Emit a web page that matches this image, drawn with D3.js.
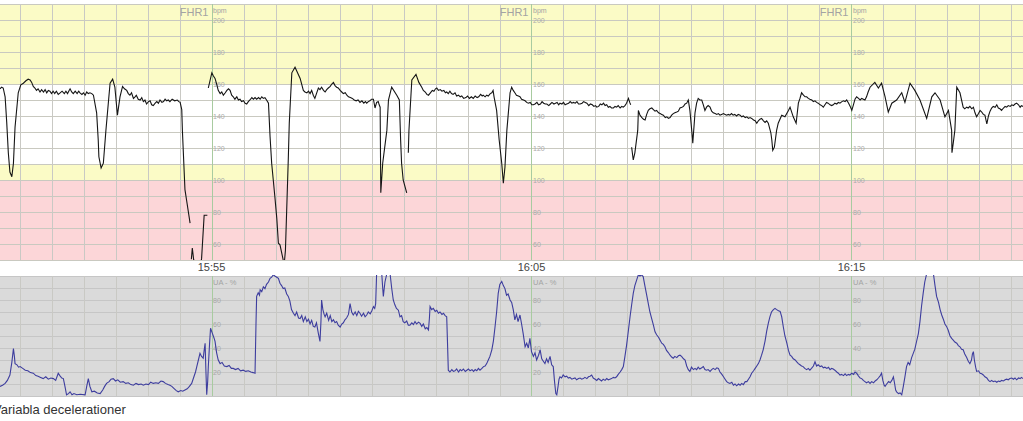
<!DOCTYPE html>
<html><head><meta charset="utf-8">
<script src="https://cdn.jsdelivr.net/npm/d3@7"></script>
<style>body{margin:0;background:#fff;overflow:hidden}svg{display:block;font-family:"Liberation Sans",Arial,sans-serif}</style>
</head><body><svg id="c" width="1023" height="421"></svg>
<script>
// ---- data (time in minutes relative to 15:55) ----
const viewStartMin = -6.61, viewEndMin = 25.36;
const timeLabels = ["15:55", "16:05", "16:15"];
const fhrTicks = [200, 180, 160, 140, 120, 100, 80, 60];
const uaTicks = [80, 60, 40, 20];
const fhrZoneBounds = [210, 160, 110, 100, 50];
const caption = "Variabla decelerationer";

// FHR1 (bpm), [minute, bpm]; null = signal gap
const fhrSeries = [[-6.61,157],[-6.56,158],[-6.51,157.5],[-6.45,152],[-6.40,136],[-6.35,117],[-6.30,105],[-6.24,102],[-6.19,110.5],[-6.14,133],[-6.04,154.5],[-5.96,159.5],[-5.88,160.5],[-5.80,162],[-5.73,163],[-5.67,162.5],[-5.62,161],[-5.57,158.5],[-5.52,157.5],[-5.47,156],[-5.42,157],[-5.36,155],[-5.31,156.5],[-5.25,155],[-5.20,156.5],[-5.15,154.5],[-5.10,156],[-5.05,155.5],[-5.00,154],[-4.95,155.5],[-4.90,154],[-4.85,155.5],[-4.79,153.5],[-4.73,154.5],[-4.67,155.5],[-4.60,154],[-4.55,155.5],[-4.50,154],[-4.45,156],[-4.42,157],[-4.37,155],[-4.32,154],[-4.26,155.5],[-4.20,154],[-4.15,155.5],[-4.11,154.5],[-4.05,153.5],[-4.00,154.5],[-3.95,153],[-3.90,155],[-3.85,154],[-3.80,154.5],[-3.74,154],[-3.69,153],[-3.59,142],[-3.54,125],[-3.52,114.5],[-3.45,107.5],[-3.38,110.5],[-3.30,131],[-3.17,160.5],[-3.09,163],[-3.02,158],[-2.94,140.5],[-2.86,152],[-2.78,158.5],[-2.72,157],[-2.65,156],[-2.60,154],[-2.55,153],[-2.50,154.5],[-2.44,151],[-2.39,152],[-2.35,153],[-2.29,150.5],[-2.23,150],[-2.18,151.5],[-2.13,149],[-2.08,150],[-2.03,147.5],[-1.97,149],[-1.92,149.5],[-1.87,147],[-1.82,146.5],[-1.76,148],[-1.71,149],[-1.66,148],[-1.61,150],[-1.55,148.5],[-1.50,149],[-1.45,150.5],[-1.40,149.5],[-1.35,150],[-1.30,149],[-1.23,150.5],[-1.15,149.5],[-1.07,150],[-1.02,149],[-0.98,148.5],[-0.93,144],[-0.91,131],[-0.83,94],[-0.78,87.5],[-0.67,73],[-0.65,null],[-0.63,50.5],[-0.60,57.5],[-0.56,50.5],[-0.48,44],[-0.36,44],[-0.31,51],[-0.23,78],[-0.13,78],[-0.11,null],[-0.10,157.5],[0.01,167],[0.06,165],[0.11,163.5],[0.16,160],[0.21,156],[0.27,154],[0.32,155],[0.37,153],[0.43,154.5],[0.48,156],[0.53,157],[0.58,156],[0.63,153],[0.68,152],[0.73,150.5],[0.79,152],[0.84,150],[0.89,150.5],[0.94,149],[1.00,149.5],[1.05,148],[1.10,147.5],[1.15,149],[1.20,150],[1.26,151.5],[1.31,150.5],[1.36,151.5],[1.41,150.5],[1.47,151.5],[1.52,150.5],[1.57,152],[1.62,151],[1.67,151.5],[1.72,150],[1.78,148],[1.83,127],[1.88,110.5],[1.98,89.5],[2.04,76],[2.09,60.5],[2.14,59.5],[2.23,51],[2.27,47],[2.31,56],[2.40,113.5],[2.43,135.5],[2.51,167],[2.61,170.5],[2.77,163.5],[2.87,156],[2.92,155],[2.98,154.5],[3.03,155.5],[3.08,154],[3.13,156],[3.18,153],[3.23,151],[3.28,154],[3.34,157.5],[3.39,156.5],[3.44,158],[3.50,156],[3.55,155],[3.60,156.5],[3.65,157.5],[3.71,158.5],[3.76,160],[3.81,161],[3.86,159],[3.91,158],[3.96,157.5],[4.02,156],[4.07,155],[4.12,154],[4.18,154.5],[4.23,153],[4.28,152],[4.34,151.5],[4.40,151],[4.46,150],[4.52,149.5],[4.58,150],[4.64,148.5],[4.70,149.5],[4.76,148],[4.81,149],[4.85,148],[4.90,149],[4.95,149.5],[5.00,150.5],[5.06,150.5],[5.11,145],[5.16,148.5],[5.21,149],[5.24,147],[5.27,145.5],[5.29,92],[5.35,110.5],[5.48,131],[5.53,150],[5.63,158],[5.79,153],[5.87,150],[5.91,125],[5.94,110.5],[5.99,100],[6.10,92],[6.12,null],[6.15,117],[6.17,131],[6.26,162.5],[6.39,166],[6.48,161],[6.57,158],[6.62,156],[6.68,155],[6.73,153.5],[6.78,153],[6.84,154.5],[6.90,156],[6.95,155.5],[7.00,157],[7.04,157.5],[7.09,156],[7.15,156.5],[7.20,155.5],[7.26,156],[7.31,154.5],[7.35,155],[7.40,154],[7.45,155.5],[7.50,154],[7.55,153.5],[7.61,154.5],[7.66,152.5],[7.72,153],[7.77,152],[7.82,152.5],[7.88,151],[7.95,151.5],[8.00,152.5],[8.06,151],[8.12,152],[8.18,151],[8.24,152.5],[8.30,151.5],[8.35,152],[8.41,153.5],[8.46,152.5],[8.49,153],[8.55,152],[8.60,153],[8.65,152.5],[8.71,154],[8.76,154.5],[8.80,156],[8.83,152],[8.91,143.5],[8.99,125],[9.07,110.5],[9.12,98],[9.17,108],[9.23,131],[9.33,154.5],[9.38,158],[9.43,156],[9.48,154.5],[9.53,153],[9.59,152.5],[9.64,152],[9.69,150.5],[9.75,150],[9.80,149.5],[9.85,148.5],[9.90,148],[9.96,148.5],[10.01,147],[10.06,147],[10.11,147.5],[10.17,148.5],[10.22,147],[10.28,147.5],[10.33,149],[10.38,148],[10.43,147.5],[10.48,147.5],[10.54,146.5],[10.59,147.5],[10.64,148.5],[10.70,147.5],[10.75,148],[10.80,148.5],[10.85,147],[10.89,148],[10.95,147.5],[11.00,148.5],[11.05,147],[11.10,147.5],[11.16,148],[11.21,149],[11.26,148],[11.31,148.5],[11.37,148],[11.42,149],[11.47,147.5],[11.52,147.5],[11.58,148],[11.63,149],[11.68,148.5],[11.73,148],[11.79,146.5],[11.84,147.5],[11.90,147],[11.95,146],[12.00,146.5],[12.04,145.5],[12.10,146],[12.15,147.5],[12.20,147],[12.25,148],[12.30,146.5],[12.35,147],[12.40,145.5],[12.45,146],[12.50,145],[12.56,145],[12.61,146],[12.66,145.5],[12.71,146.5],[12.77,145],[12.82,146],[12.87,145.5],[12.92,146.5],[12.97,148],[13.03,151],[13.07,148.5],[13.10,147],[13.11,null],[13.13,120.5],[13.18,112.5],[13.23,117],[13.32,131],[13.34,143.5],[13.39,140.5],[13.45,139],[13.50,138],[13.55,137.5],[13.60,141],[13.65,143.5],[13.70,144.5],[13.76,145],[13.81,144],[13.86,143],[13.91,143.5],[13.97,142],[14.02,141.5],[14.07,141],[14.12,140.5],[14.18,139],[14.23,139.5],[14.28,138.5],[14.33,139],[14.38,140.5],[14.43,141.5],[14.48,142],[14.54,142.5],[14.59,143],[14.64,145],[14.70,145.5],[14.75,146],[14.80,147.5],[14.85,148],[14.90,150],[14.95,143.5],[15.03,126],[15.04,123],[15.11,142],[15.16,148],[15.21,151],[15.26,150],[15.32,150],[15.37,147],[15.42,143.5],[15.47,145.5],[15.52,146.5],[15.58,145.5],[15.63,143],[15.68,142],[15.74,141.5],[15.79,141],[15.84,141.5],[15.89,140.5],[15.94,141],[16.00,141.5],[16.05,141],[16.10,140.5],[16.15,141],[16.20,140.5],[16.25,141.5],[16.30,140.5],[16.35,141],[16.41,140],[16.46,141],[16.52,140.5],[16.57,139.5],[16.62,140],[16.68,139],[16.73,139.5],[16.78,138.5],[16.83,139],[16.88,138.5],[16.94,137.5],[16.99,137],[17.04,135.5],[17.09,137],[17.14,138],[17.19,138.5],[17.25,137],[17.30,136],[17.35,137],[17.40,135.5],[17.48,129.5],[17.51,125],[17.54,118.5],[17.59,120.5],[17.66,131],[17.71,135.5],[17.82,140.5],[17.92,139.5],[18.03,143.5],[18.08,145.5],[18.18,139.5],[18.27,135.5],[18.34,148],[18.39,151],[18.44,154.5],[18.50,153],[18.55,152],[18.60,152],[18.65,151],[18.70,150.5],[18.76,150],[18.81,149],[18.86,149.5],[18.91,148.5],[18.96,148],[19.02,147],[19.07,146.5],[19.12,145.5],[19.17,147],[19.22,148.5],[19.27,148],[19.33,147],[19.38,146.5],[19.43,147],[19.48,148],[19.54,147.5],[19.59,148.5],[19.64,148],[19.70,149],[19.75,149.5],[19.80,149],[19.85,150],[19.91,148],[19.96,146],[20.01,143.5],[20.06,147],[20.11,150.5],[20.16,152],[20.22,151],[20.27,150],[20.32,151],[20.37,150.5],[20.42,150],[20.47,152],[20.52,155],[20.58,158],[20.73,161],[20.84,157.5],[20.94,160.5],[21.05,152],[21.15,142.5],[21.26,148],[21.41,150],[21.57,154.5],[21.67,148.5],[21.83,160.5],[21.98,156],[22.14,150],[22.35,138.5],[22.51,152],[22.61,154.5],[22.77,150],[22.92,139.5],[23.03,143.5],[23.13,131],[23.14,117],[23.18,123],[23.23,131],[23.29,158],[23.39,154.5],[23.49,145.5],[23.54,144.5],[23.60,145.5],[23.65,145],[23.70,146],[23.76,144.5],[23.81,145.5],[23.86,142],[23.91,139.5],[23.97,141.5],[24.02,143.5],[24.07,142.5],[24.12,141],[24.17,140.5],[24.23,135],[24.28,140],[24.33,143],[24.38,145],[24.43,146],[24.49,145.5],[24.54,147],[24.59,145],[24.64,144.5],[24.69,143.5],[24.75,145],[24.80,146],[24.85,145.5],[24.90,146.5],[24.96,146],[25.01,147],[25.06,146.5],[25.11,147.5],[25.16,148],[25.22,147],[25.27,145.5],[25.31,146.5],[25.36,146]];

// UA (%), [minute, percent]
const uaSeries = [[-6.61,8],[-6.53,9],[-6.45,10.5],[-6.38,13],[-6.30,17.5],[-6.24,28],[-6.19,39.5],[-6.16,33],[-6.14,27],[-6.08,26],[-6.03,24],[-5.98,24.5],[-5.90,23],[-5.82,21.5],[-5.74,21],[-5.66,19.5],[-5.57,19],[-5.49,17],[-5.42,16.5],[-5.34,15.5],[-5.26,14.5],[-5.18,16],[-5.10,14],[-5.02,15],[-4.94,14.5],[-4.87,13],[-4.79,19],[-4.74,17],[-4.68,15],[-4.63,14.5],[-4.58,8],[-4.53,1],[-4.47,2],[-4.42,3.5],[-4.36,1],[-4.30,2],[-4.21,1],[-4.10,1.5],[-3.95,1],[-3.90,8],[-3.85,14.5],[-3.80,8],[-3.74,3.5],[-3.66,4],[-3.57,2.5],[-3.48,2],[-3.40,5],[-3.34,8],[-3.28,10.5],[-3.20,12],[-3.14,14],[-3.07,14.5],[-3.00,12.5],[-2.93,13.5],[-2.85,11.5],[-2.76,12],[-2.68,10.5],[-2.60,11],[-2.52,9.5],[-2.44,9],[-2.36,10.5],[-2.28,9.5],[-2.20,10],[-2.13,9],[-2.05,10],[-1.97,9.5],[-1.90,11.5],[-1.82,10.5],[-1.74,11],[-1.66,10.5],[-1.58,12.5],[-1.51,12],[-1.44,10.5],[-1.36,9.5],[-1.30,9],[-1.24,8],[-1.16,6],[-1.10,4.5],[-1.04,3.5],[-0.96,4.5],[-0.90,4],[-0.83,5],[-0.76,6],[-0.69,8],[-0.62,10.5],[-0.55,16],[-0.50,20],[-0.46,24.5],[-0.41,30],[-0.36,35.5],[-0.31,33],[-0.26,31.5],[-0.23,38],[-0.20,44],[-0.18,25],[-0.15,1],[-0.12,12],[-0.10,24.5],[-0.06,44],[-0.03,56.5],[0.03,52],[0.07,49],[0.11,45.5],[0.16,36],[0.21,30],[0.27,27],[0.33,28],[0.40,25],[0.48,24.5],[0.55,25.5],[0.62,23],[0.68,23],[0.75,22],[0.83,23],[0.91,21],[0.99,21.5],[1.07,20.5],[1.15,21],[1.23,20],[1.30,19.5],[1.36,19],[1.39,60],[1.41,83],[1.46,86],[1.50,84],[1.52,88.5],[1.57,87],[1.62,91],[1.67,89.5],[1.72,93],[1.78,95],[1.83,98],[1.88,99],[1.93,101],[1.98,100],[2.04,99],[2.09,98],[2.14,94],[2.19,92],[2.24,89.5],[2.29,90],[2.35,85],[2.40,83],[2.45,79],[2.50,72],[2.56,69],[2.61,67],[2.66,70],[2.72,65],[2.77,64.5],[2.82,67],[2.87,62],[2.93,66],[2.98,62],[3.03,64],[3.08,60],[3.13,63],[3.18,58],[3.23,57.5],[3.28,61],[3.34,52],[3.39,45.5],[3.42,62],[3.44,80],[3.48,72],[3.52,68],[3.55,66],[3.60,69],[3.66,63],[3.71,67],[3.76,62],[3.81,63.5],[3.86,61],[3.91,62],[3.96,59],[4.02,57.5],[4.07,60],[4.12,61],[4.17,63.5],[4.22,65],[4.28,68],[4.33,77],[4.38,70],[4.43,67.5],[4.49,70],[4.54,67],[4.59,70.5],[4.64,69],[4.69,66.5],[4.75,69],[4.80,66],[4.85,67.5],[4.90,70],[4.96,68.5],[5.01,71],[5.06,74.5],[5.10,73],[5.13,77],[5.16,102],[5.25,102],[5.32,102],[5.35,90],[5.37,83],[5.42,95],[5.48,102],[5.58,102],[5.63,90],[5.68,80],[5.73,76],[5.78,73],[5.84,71.5],[5.89,66],[5.94,67],[5.99,62],[6.04,61],[6.10,62.5],[6.15,59],[6.20,59],[6.26,61],[6.31,59.5],[6.36,62],[6.41,60],[6.47,61.5],[6.52,60.5],[6.57,58],[6.62,60],[6.68,56],[6.73,57],[6.78,55],[6.81,65],[6.83,74.5],[6.88,72],[6.93,73],[6.99,70.5],[7.04,71.5],[7.09,69],[7.14,70],[7.20,68],[7.25,69],[7.30,67],[7.35,66],[7.38,40],[7.40,21.5],[7.45,20],[7.51,22],[7.56,20.5],[7.61,21],[7.66,22.5],[7.72,20],[7.77,22],[7.82,21],[7.87,22.5],[7.93,20.5],[7.98,21.5],[8.03,22.5],[8.08,21],[8.14,22],[8.19,20.5],[8.24,22],[8.29,21],[8.34,23],[8.39,21.5],[8.45,23],[8.50,24.5],[8.55,25],[8.60,27],[8.65,30],[8.70,33],[8.76,38.5],[8.81,46],[8.86,57.5],[8.91,70],[8.96,85.5],[9.01,93],[9.07,95.5],[9.12,92],[9.17,89.5],[9.22,84],[9.27,85],[9.33,80],[9.38,78],[9.43,72],[9.48,63.5],[9.53,68],[9.58,62],[9.64,67.5],[9.69,60],[9.74,52],[9.80,41],[9.85,44],[9.90,40],[9.95,48],[10.00,37],[10.06,33],[10.11,36],[10.16,30],[10.22,34],[10.27,38.5],[10.32,31],[10.37,29],[10.42,27],[10.47,31],[10.52,28],[10.58,33],[10.63,26],[10.68,24.5],[10.72,12],[10.76,2],[10.79,1],[10.83,8],[10.86,14],[10.89,16],[10.94,15],[10.99,17.5],[11.05,16],[11.10,16.5],[11.15,15],[11.20,15.5],[11.26,14],[11.31,14.5],[11.36,15],[11.41,13.5],[11.47,14.5],[11.52,15],[11.57,14],[11.62,14.5],[11.67,15.5],[11.73,14.5],[11.78,16],[11.83,16.5],[11.88,17.5],[11.93,15],[11.99,14],[12.04,13],[12.09,14.5],[12.14,13.5],[12.19,12.5],[12.24,14],[12.30,13],[12.35,14.5],[12.40,13.5],[12.45,14],[12.50,14.5],[12.56,15.5],[12.61,15],[12.66,16],[12.71,18],[12.77,20],[12.82,22],[12.87,24.5],[12.92,33],[12.97,42],[13.03,55],[13.08,66],[13.13,76],[13.18,85.5],[13.23,92],[13.29,97],[13.34,101],[13.39,100],[13.44,101],[13.49,99.5],[13.55,91],[13.60,84],[13.65,77],[13.70,70],[13.76,64],[13.81,59],[13.86,53.5],[13.91,51],[13.97,49],[14.02,46.5],[14.07,44],[14.12,43],[14.17,41],[14.22,38],[14.28,36],[14.33,34],[14.38,32.5],[14.43,31.5],[14.48,33],[14.54,32],[14.59,33.5],[14.64,34],[14.69,33],[14.75,31],[14.80,30],[14.85,25],[14.90,22],[14.95,20.5],[15.00,24],[15.06,22],[15.11,23],[15.16,22],[15.21,24],[15.26,22.5],[15.32,23.5],[15.37,24.5],[15.42,22],[15.47,21.5],[15.52,22],[15.58,20.5],[15.63,22],[15.68,23],[15.74,22],[15.79,23.5],[15.84,23],[15.89,20],[15.95,18],[16.00,16],[16.05,14],[16.10,12],[16.15,11],[16.20,10.5],[16.26,11.5],[16.31,9],[16.36,10],[16.41,8.5],[16.47,10],[16.52,9],[16.57,10.5],[16.62,9.5],[16.68,12],[16.73,12],[16.78,14],[16.83,16],[16.88,19],[16.94,21],[16.99,23],[17.04,25],[17.09,27],[17.14,30],[17.19,34],[17.24,38.5],[17.30,46],[17.35,54],[17.40,60.5],[17.45,66],[17.50,70],[17.56,72],[17.61,73],[17.66,72],[17.72,71],[17.77,70.5],[17.82,66],[17.87,57.5],[17.92,50],[17.98,44],[18.03,38],[18.08,34],[18.13,33],[18.18,31],[18.24,30],[18.29,28.5],[18.34,27],[18.39,26],[18.44,25],[18.49,24.5],[18.54,23],[18.60,22],[18.65,23],[18.70,21.5],[18.75,23],[18.81,25],[18.86,28.5],[18.91,25],[18.96,26],[19.02,24.5],[19.07,25],[19.12,23.5],[19.17,24],[19.23,23],[19.28,24],[19.33,22],[19.38,23],[19.43,22.5],[19.48,21.5],[19.54,20],[19.59,19],[19.64,17.5],[19.69,18],[19.75,17],[19.80,18.5],[19.85,17],[19.90,18],[19.95,17.5],[20.01,19],[20.06,18],[20.11,20],[20.16,19],[20.21,17],[20.27,15],[20.32,14.5],[20.37,13],[20.42,12],[20.47,11],[20.53,12],[20.58,10.5],[20.63,12],[20.69,11],[20.74,12.5],[20.79,13.5],[20.84,15],[20.90,17],[20.94,19],[20.98,13],[21.02,9],[21.05,8],[21.10,10],[21.16,12],[21.21,11],[21.26,13],[21.31,16],[21.35,10],[21.38,5],[21.41,3.5],[21.47,2],[21.52,2.5],[21.57,1],[21.62,8],[21.67,16],[21.72,24.5],[21.77,28],[21.82,26],[21.88,32],[21.93,35.5],[21.98,39],[22.03,45],[22.09,52],[22.14,62],[22.19,75],[22.24,85.5],[22.29,95],[22.35,102],[22.56,102],[22.61,92],[22.66,83],[22.72,78],[22.77,72],[22.82,67.5],[22.87,64],[22.92,60],[22.97,58],[23.02,55],[23.08,50],[23.13,48],[23.18,46.5],[23.23,45],[23.29,44],[23.34,42],[23.39,41],[23.44,39],[23.49,38.5],[23.54,35],[23.60,32],[23.65,29],[23.70,27],[23.75,30],[23.78,35],[23.81,37],[23.84,30],[23.88,24],[23.91,20.5],[23.97,21],[24.02,19],[24.07,18.5],[24.12,17.5],[24.17,16],[24.23,15],[24.28,13],[24.33,12],[24.38,13],[24.43,12],[24.49,12.5],[24.54,11.5],[24.59,12.5],[24.64,12],[24.69,13],[24.75,12.5],[24.80,13.5],[24.85,14],[24.90,13.5],[24.95,14.5],[25.01,15],[25.06,14],[25.11,15],[25.16,13.5],[25.22,15],[25.27,14.5],[25.31,15.5],[25.36,14.5]];

// ---- drawing ----
const W = 1023;
const svg = d3.select("#c");
const base = new Date(2024, 0, 1, 15, 55, 0);
const toDate = m => new Date(base.getTime() + m * 60000);
const x = d3.scaleTime().domain([toDate(viewStartMin), toDate(viewEndMin)]).range([0, W]);
const yF = d3.scaleLinear().domain([50, 210]).range([260, 4]);
const yU = d3.scaleLinear().domain([0, 100]).range([396, 276]);
const crisp = v => Math.round(v) + 0.5;

const zoneColors = ["#fbfbc6", "#ffffff", "#fbfbc6", "#fcd6d8"];
const fhrG = svg.append("g");
for (let i = 0; i < zoneColors.length; i++) {
  fhrG.append("rect").attr("x", 0).attr("width", W)
    .attr("y", yF(fhrZoneBounds[i])).attr("height", yF(fhrZoneBounds[i + 1]) - yF(fhrZoneBounds[i]))
    .attr("fill", zoneColors[i]);
}
svg.append("rect").attr("x", 0).attr("width", W).attr("y", yU(100)).attr("height", yU(0) - yU(100)).attr("fill", "#dadada");

const minutes = d3.timeMinute.range(x.domain()[0], x.domain()[1]);
const isMajor = d => d.getMinutes() % 10 === 5;

fhrG.selectAll(".hf").data(d3.range(50, 211, 10)).join("line")
  .attr("x1", 0).attr("x2", W).attr("y1", d => crisp(yF(d))).attr("y2", d => crisp(yF(d)))
  .attr("stroke", "#c9c9c0").attr("stroke-width", 1);
svg.selectAll(".hu").data(d3.range(0, 101, 10)).join("line")
  .attr("x1", 0).attr("x2", W).attr("y1", d => crisp(yU(d))).attr("y2", d => crisp(yU(d)))
  .attr("stroke", "#c6c6c6").attr("stroke-width", 1);
[[yF(210), yF(50)], [yU(100), yU(0)]].forEach(([a, b]) => {
  svg.append("g").selectAll("line").data(minutes).join("line")
    .attr("x1", d => crisp(x(d))).attr("x2", d => crisp(x(d)))
    .attr("y1", a).attr("y2", b)
    .attr("stroke", d => isMajor(d) ? "#a8cba0" : "#c9c9c4").attr("stroke-width", 1);
});

const majors = minutes.filter(isMajor);
majors.forEach(d => {
  const mx = x(d);
  svg.append("text").attr("x", mx - 3).attr("y", 16).attr("text-anchor", "end")
    .attr("font-size", 11).attr("fill", "#a3a3a3").text("FHR1");
  svg.append("text").attr("x", mx + 1.5).attr("y", 13).attr("font-size", 7).attr("fill", "#a3a3a3").text("bpm");
  fhrTicks.forEach(t => svg.append("text").attr("x", mx + 1.5).attr("y", yF(t) + 2.5)
    .attr("font-size", 7).attr("fill", "#ababab").text(t));
  svg.append("text").attr("x", mx + 1.5).attr("y", 285).attr("font-size", 7.5).attr("fill", "#a3a3a3").text("UA - %");
  uaTicks.forEach(t => svg.append("text").attr("x", mx + 1.5).attr("y", yU(t) + 2.5)
    .attr("font-size", 7).attr("fill", "#a8a8a8").text(t));
});

timeLabels.forEach(s => {
  const [h, m] = s.split(":").map(Number);
  const d = new Date(2024, 0, 1, h, m, 0);
  svg.append("text").attr("x", x(d)).attr("y", 271).attr("text-anchor", "middle")
    .attr("font-size", 11).attr("fill", "#444").text(s);
});

const defs = svg.append("defs");
defs.append("clipPath").attr("id", "cf").append("rect").attr("x", 0).attr("y", yF(210)).attr("width", W).attr("height", yF(50) - yF(210));
defs.append("clipPath").attr("id", "cu").append("rect").attr("x", 0).attr("y", yU(100) - 1).attr("width", W).attr("height", yU(0) - yU(100) + 1);

const fhrData = fhrSeries.map(([m, v]) => ({ t: toDate(m), v }));
const uaData = uaSeries.map(([m, v]) => ({ t: toDate(m), v }));

svg.append("path").attr("clip-path", "url(#cf)")
  .attr("d", d3.line().defined(d => d.v !== null).x(d => x(d.t)).y(d => yF(d.v))(fhrData))
  .attr("fill", "none").attr("stroke", "#151515").attr("stroke-width", 1.1);
svg.append("path").attr("clip-path", "url(#cu)")
  .attr("d", d3.line().x(d => x(d.t)).y(d => yU(d.v))(uaData))
  .attr("fill", "none").attr("stroke", "#3d3d9e").attr("stroke-width", 1.1);

svg.append("text").attr("x", -7).attr("y", 414).attr("font-size", 13).attr("fill", "#333").text(caption);
</script></body></html>
